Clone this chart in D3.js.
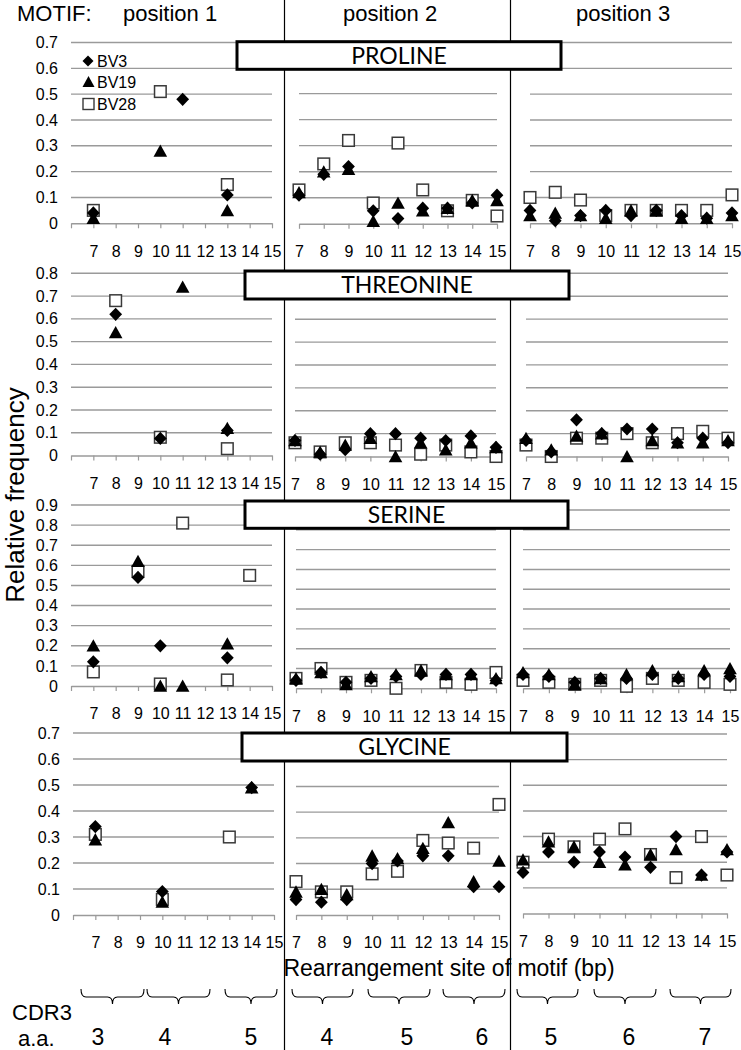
<!DOCTYPE html>
<html><head><meta charset="utf-8">
<script src="https://cdn.jsdelivr.net/npm/d3@7"></script>
<style>body{margin:0;background:#fff}svg{display:block}</style>
</head><body>
<svg id="c" width="741" height="1050"></svg>
<script>
// ---------- DATA ----------
const categories = ["7","8","9","10","11","12","13","14","15"];
const seriesNames = ["BV3","BV19","BV28"];
const motifs = ["PROLINE","THREONINE","SERINE","GLYCINE"];
const yMaxima = [0.7,0.8,0.9,0.7];
const positionTitles = ["position 1","position 2","position 3"];
const cdr3Labels = [["3","4","5"],["4","5","6"],["5","6","7"]];
const yTitle = "Relative frequency";
const xTitle = "Rearrangement site of motif (bp)";

// PROLINE
const pro_BV3_p1  = [0.04,null,null,null,0.48,null,0.11,null,null];
const pro_BV19_p1 = [0.02,null,null,0.28,null,null,0.05,null,null];
const pro_BV28_p1 = [0.05,null,null,0.51,null,null,0.15,null,null];
const pro_BV3_p2  = [0.11,0.19,0.22,0.05,0.02,0.06,0.06,0.08,0.11];
const pro_BV19_p2 = [0.12,0.20,0.21,0.01,0.08,0.05,0.06,0.09,0.09];
const pro_BV28_p2 = [0.13,0.23,0.32,0.08,0.31,0.13,0.05,0.09,0.03];
const pro_BV3_p3  = [0.05,0.01,0.03,0.05,0.03,0.05,0.03,0.02,0.04];
const pro_BV19_p3 = [0.03,0.04,0.03,0.02,0.05,0.05,0.02,0.02,0.03];
const pro_BV28_p3 = [0.10,0.12,0.09,0.03,0.05,0.05,0.05,0.05,0.11];
// THREONINE
const thr_BV3_p1  = [null,0.62,null,0.075,null,null,0.11,null,null];
const thr_BV19_p1 = [null,0.54,null,null,0.74,null,0.12,null,null];
const thr_BV28_p1 = [null,0.68,null,0.08,null,null,0.03,null,null];
const thr_BV3_p2  = [0.07,0.01,0.03,0.10,0.10,0.08,0.07,0.09,0.04];
const thr_BV19_p2 = [0.07,0.02,0.05,0.08,0.00,0.06,0.03,0.06,0.04];
const thr_BV28_p2 = [0.06,0.02,0.06,0.06,0.05,0.01,0.05,0.02,0.00];
const thr_BV3_p3  = [0.07,0.02,0.16,0.10,0.12,0.12,0.06,0.08,0.06];
const thr_BV19_p3 = [0.08,0.03,0.09,0.10,0.00,0.07,0.06,0.06,0.07];
const thr_BV28_p3 = [0.05,0.00,0.08,0.08,0.10,0.06,0.10,0.11,0.08];
// SERINE
const ser_BV3_p1  = [0.12,null,0.54,0.20,null,null,0.14,null,null];
const ser_BV19_p1 = [0.20,null,0.62,0.00,0.00,null,0.21,null,null];
const ser_BV28_p1 = [0.07,null,0.57,0.01,0.81,null,0.03,0.55,null];
const ser_BV3_p2  = [0.04,0.08,0.03,0.05,0.06,0.07,0.07,0.07,0.04];
const ser_BV19_p2 = [0.05,0.08,0.02,0.06,0.07,0.09,0.07,0.07,0.05];
const ser_BV28_p2 = [0.05,0.10,0.03,0.04,0.00,0.09,0.03,0.02,0.08];
const ser_BV3_p3  = [0.07,0.06,0.03,0.05,0.05,0.07,0.05,0.07,0.06];
const ser_BV19_p3 = [0.08,0.07,0.02,0.05,0.07,0.09,0.06,0.09,0.10];
const ser_BV28_p3 = [0.04,0.03,0.02,0.04,0.01,0.05,0.04,0.03,0.02];
// GLYCINE
const gly_BV3_p1  = [0.34,null,null,0.09,null,null,null,0.49,null];
const gly_BV19_p1 = [0.29,null,null,0.05,null,null,null,0.49,null];
const gly_BV28_p1 = [0.31,null,null,0.06,null,null,0.30,null,null];
const gly_BV3_p2  = [0.06,0.05,0.06,0.20,0.21,0.23,0.23,0.11,0.11];
const gly_BV19_p2 = [0.09,0.10,0.08,0.23,0.22,0.26,0.36,0.13,0.21];
const gly_BV28_p2 = [0.13,0.09,0.09,0.16,0.17,0.29,0.28,0.26,0.43];
const gly_BV3_p3  = [0.16,0.24,0.20,0.24,0.22,0.18,0.30,0.15,0.24];
const gly_BV19_p3 = [0.21,0.28,0.26,0.20,0.19,0.23,0.25,0.15,0.25];
const gly_BV28_p3 = [0.20,0.29,0.26,0.29,0.33,0.23,0.14,0.30,0.15];

const table = [
  [[pro_BV3_p1,pro_BV19_p1,pro_BV28_p1],[pro_BV3_p2,pro_BV19_p2,pro_BV28_p2],[pro_BV3_p3,pro_BV19_p3,pro_BV28_p3]],
  [[thr_BV3_p1,thr_BV19_p1,thr_BV28_p1],[thr_BV3_p2,thr_BV19_p2,thr_BV28_p2],[thr_BV3_p3,thr_BV19_p3,thr_BV28_p3]],
  [[ser_BV3_p1,ser_BV19_p1,ser_BV28_p1],[ser_BV3_p2,ser_BV19_p2,ser_BV28_p2],[ser_BV3_p3,ser_BV19_p3,ser_BV28_p3]],
  [[gly_BV3_p1,gly_BV19_p1,gly_BV28_p1],[gly_BV3_p2,gly_BV19_p2,gly_BV28_p2],[gly_BV3_p3,gly_BV19_p3,gly_BV28_p3]]
];

// ---------- LAYOUT ----------
const panelY = [
  [[223.3,42.5],[223.8,41.5],[223.3,42.5]],
  [[455.5,273.3],[456.5,273.5],[456.5,273.3]],
  [[686,505],[688.3,510],[688.3,510]],
  [[915,733],[915,735],[913.5,734]]
];
const colX = [
  [[71,272],[299,497],[530,732]],
  [[71,272],[295,496],[526,728]],
  [[71,272],[296,496],[523,730]],
  [[73,274],[296,499],[523,727]]
];
const boxes = [[237,41.7,561,69.3],[245,271,569,299],[245,501,568,528.3],[242,733,567,761]];
const sepX = [284.5, 510.5];
// brace extents and a.a. label positions (px) per motif position
const braceSpans = [[[81,144],[147,210],[225,277]],[[292,353],[368,430],[443,505]],[[517,578],[594,656],[670,731]]];
const aaLabelX = [[98,165,251],[327,407,482],[551,629,705]];
const FONT = "'Liberation Sans', Arial, sans-serif";
const gridCol = "#9a9a9a";

const svg = d3.select("#c");
svg.append("rect").attr("width",741).attr("height",1050).attr("fill","#fff");

function diamondPath(x,y){return `M${x},${y-6.6}L${x+6.4},${y}L${x},${y+6.6}L${x-6.4},${y}Z`;}
function trianglePath(x,y){return `M${x},${y-6.5}L${x+6.8},${y+5.8}L${x-6.8},${y+5.8}Z`;}

const markerLayer = [];

motifs.forEach((m,mi)=>{
  for(let p=0;p<3;p++){
    const [x0,x1] = colX[mi][p];
    const [yb,yt] = panelY[mi][p];
    const dom = p===0 ? [""].concat(categories) : categories;
    const x = d3.scalePoint().domain(dom).range([x0,x1]).padding(0);
    const y = d3.scaleLinear().domain([0,yMaxima[mi]]).range([yb,yt]);
    const g = svg.append("g");
    const ticks = d3.range(1, Math.round(yMaxima[mi]*10)+1).map(d=>d/10);
    g.selectAll("line.grid").data(ticks).join("line")
      .attr("x1",x0).attr("x2",x1).attr("y1",d=>y(d)).attr("y2",d=>y(d))
      .attr("stroke",gridCol).attr("stroke-width",1.4);
    const ax = g.append("g").attr("transform",`translate(0,${y(0)})`)
      .call(d3.axisBottom(x).tickSize(5).tickSizeOuter(0).tickPadding(17));
    ax.select(".domain").attr("stroke",gridCol).attr("stroke-width",1.4);
    ax.selectAll(".tick line").attr("stroke",gridCol).attr("stroke-width",1.2);
    ax.selectAll("text").attr("font-family",FONT).attr("font-size",16).attr("fill","#000");
    if(p===0){
      const ay = g.append("g").attr("transform",`translate(${x0},0)`)
        .call(d3.axisLeft(y).tickValues([0].concat(ticks)).tickSize(0).tickPadding(13)
          .tickFormat(d=> d===0 ? "0" : d3.format(".1f")(d)));
      ay.select(".domain").remove();
      ay.selectAll("text").attr("font-family",FONT).attr("font-size",16).attr("fill","#000");
    }
    markerLayer.push({mi,p,x,y,dom});
  }
});

// separators
sepX.forEach(sx=>svg.append("line").attr("x1",sx).attr("x2",sx).attr("y1",0).attr("y2",1050)
  .attr("stroke","#000").attr("stroke-width",1.2));

// markers
markerLayer.forEach(({mi,p,x,y})=>{
  const g = svg.append("g");
  const vals = table[mi][p];
  const pts = s => categories.map((c,i)=>({c,v:vals[s][i]})).filter(d=>d.v!==null);
  g.selectAll("rect.sq").data(pts(2)).join("rect")
    .attr("x",d=>x(d.c)-5.8).attr("y",d=>y(d.v)-5.8).attr("width",11.6).attr("height",11.6)
    .attr("fill","#fff").attr("stroke","#3a3a3a").attr("stroke-width",1.5);
  g.selectAll("path.di").data(pts(0)).join("path")
    .attr("d",d=>diamondPath(x(d.c),y(d.v))).attr("fill","#000");
  g.selectAll("path.tr").data(pts(1)).join("path")
    .attr("d",d=>trianglePath(x(d.c),y(d.v))).attr("fill","#000");
});

// title boxes
boxes.forEach((b,i)=>{
  svg.append("rect").attr("x",b[0]).attr("y",b[1]).attr("width",b[2]-b[0]).attr("height",b[3]-b[1])
    .attr("fill","#fff").attr("stroke","#000").attr("stroke-width",3);
  svg.append("text").attr("x",(b[0]+b[2])/2).attr("y",(b[1]+b[3])/2+8)
    .attr("text-anchor","middle").attr("font-family","Lato, 'Open Sans', sans-serif")
    .attr("font-size",23).text(motifs[i]);
});

// legend
const leg = svg.append("g");
const legY = [61,82,104];
leg.append("path").attr("d",`M88,${legY[0]-5.5}L93.5,${legY[0]}L88,${legY[0]+5.5}L82.5,${legY[0]}Z`).attr("fill","#000");
leg.append("path").attr("d",`M88.5,${legY[1]-6}L94.5,${legY[1]+5}L82.5,${legY[1]+5}Z`).attr("fill","#000");
leg.append("rect").attr("x",83).attr("y",legY[2]-5.5).attr("width",11).attr("height",11)
  .attr("fill","#fff").attr("stroke","#3a3a3a").attr("stroke-width",1.4);
seriesNames.forEach((s,i)=>leg.append("text").attr("x",97).attr("y",legY[i]+6)
  .attr("font-family",FONT).attr("font-size",16).text(s));

// top titles
svg.append("text").attr("x",17).attr("y",21).attr("font-family",FONT).attr("font-size",22).text("MOTIF:");
const titleX = [123,343,576];
positionTitles.forEach((t,i)=>svg.append("text").attr("x",titleX[i]).attr("y",21)
  .attr("font-family",FONT).attr("font-size",22).text(t));

// y title
svg.append("text").attr("transform","translate(24,495) rotate(-90)").attr("text-anchor","middle")
  .attr("font-family",FONT).attr("font-size",26).text(yTitle);
// x title
svg.append("text").attr("x",449).attr("y",976).attr("text-anchor","middle")
  .attr("font-family",FONT).attr("font-size",23).text(xTitle);

// CDR3 braces
svg.append("text").attr("x",12).attr("y",1020).attr("font-family",FONT).attr("font-size",22).text("CDR3");
svg.append("text").attr("x",18).attr("y",1046).attr("font-family",FONT).attr("font-size",22).text("a.a.");
for(let p=0;p<3;p++){
  for(let k=0;k<3;k++){
    const [a,b] = braceSpans[p][k];
    const m = (a+b)/2, y0 = 989, ym = 997, yd = 1004;
    svg.append("path").attr("d",
      `M${a},${y0}Q${a},${ym} ${a+5},${ym}H${m-5}Q${m},${ym} ${m},${yd}Q${m},${ym} ${m+5},${ym}H${b-5}Q${b},${ym} ${b},${y0}`)
      .attr("fill","none").attr("stroke","#000").attr("stroke-width",1.1);
    svg.append("text").attr("x",aaLabelX[p][k]).attr("y",1045).attr("text-anchor","middle")
      .attr("font-family",FONT).attr("font-size",23).text(cdr3Labels[p][k]);
  }
}
</script>
</body></html>
